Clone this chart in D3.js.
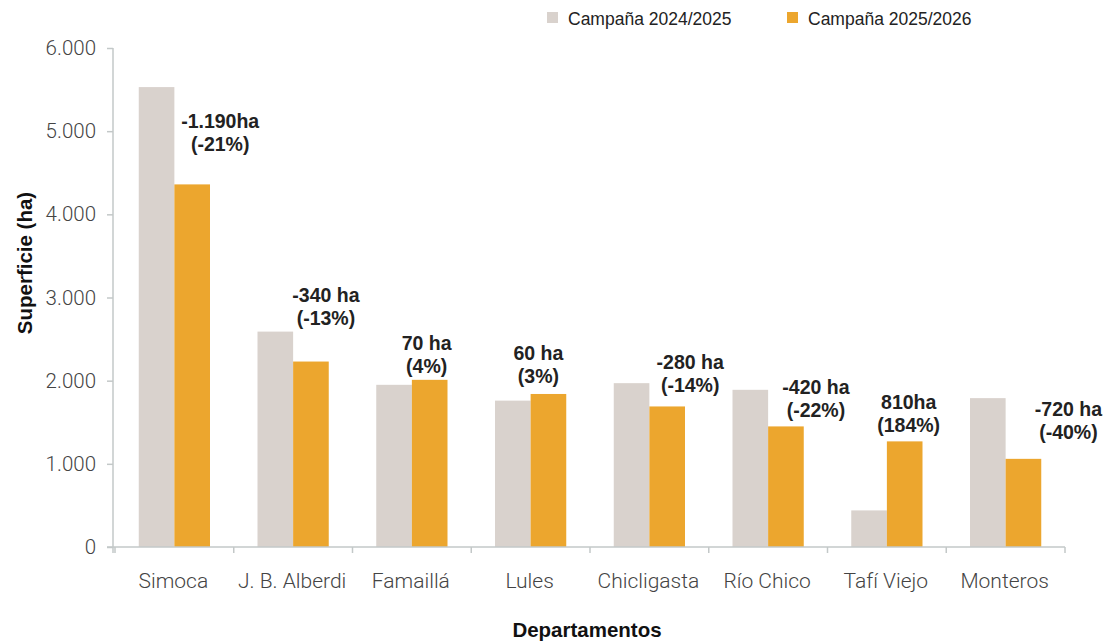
<!DOCTYPE html>
<html lang="es">
<head>
  <meta charset="UTF-8">
  <title>Superficie por departamento</title>
  <script src="https://d3js.org/d3.v7.min.js"></script>
  <style>
    body { margin: 0; background: #fff; }
    svg { display: block; }
    .tick-label { font-family: Roboto, "Liberation Sans", sans-serif; font-weight: 300; fill: #444; }
    .bold { font-family: "Liberation Sans", Arial, sans-serif; font-weight: bold; fill: #222; }
  </style>
</head>
<body>
<script>
// data
const departamentos = ["Simoca", "J. B. Alberdi", "Famaillá", "Lules", "Chicligasta", "Río Chico", "Tafí Viejo", "Monteros"];
const series = ["Campaña 2024/2025", "Campaña 2025/2026"];
const campana2024 = [5530, 2590, 1950, 1760, 1970, 1890, 440, 1790];
const campana2025 = [4360, 2230, 2010, 1840, 1690, 1450, 1270, 1060];
const difHa = ["-1.190ha", "-340 ha", "70 ha", "60 ha", "-280 ha", "-420 ha", "810ha", "-720 ha"];
const difPct = ["(-21%)", "(-13%)", "(4%)", "(3%)", "(-14%)", "(-22%)", "(184%)", "(-40%)"];
const yTicks = [0, 1000, 2000, 3000, 4000, 5000, 6000];

// label placement (hand-placed in the original)
const labelDx = [28, 15, -3, -10, 23, 30, 4, 45];
const labelDy = [33, 37, 7, 11, 14, 9, 9, 20];

const colors = ["#d9d2cd", "#eca62e"];
const axisColor = "#c3c8c8";

const width = 1109;
const height = 644;

const svg = d3.select("body").append("svg")
  .attr("width", width)
  .attr("height", height);

const y = d3.scaleLinear().domain([0, 6000]).range([547, 48]);

const x0 = d3.scaleBand()
  .domain(departamentos)
  .range([115, 1065])
  .paddingInner(0.4)
  .paddingOuter(0.2);

const x1 = d3.scaleBand()
  .domain(series)
  .range([0, x0.bandwidth()]);

const locale = d3.formatLocale({decimal: ",", thousands: ".", grouping: [3], currency: ["$", ""]});
const fmt = locale.format(",");

// y axis
const yAxis = svg.append("g")
  .attr("transform", "translate(113,0)")
  .call(d3.axisLeft(y).tickValues(yTicks).tickFormat(fmt).tickSize(6).tickPadding(11));
yAxis.select(".domain").remove();
yAxis.selectAll(".tick line").attr("stroke", axisColor).attr("stroke-width", 1.5);
yAxis.selectAll(".tick text")
  .attr("class", "tick-label")
  .style("font-size", "20.5px");
svg.append("line")
  .attr("x1", 113).attr("x2", 113)
  .attr("y1", y(6000)).attr("y2", 553)
  .attr("stroke", axisColor).attr("stroke-width", 1.5);

// bars
const groups = svg.append("g")
  .selectAll("g")
  .data(departamentos)
  .join("g")
  .attr("transform", d => `translate(${x0(d)},0)`);

groups.selectAll("rect")
  .data((d, i) => [campana2024[i], campana2025[i]].map((v, j) => ({s: series[j], v: v, c: colors[j]})))
  .join("rect")
  .attr("x", d => x1(d.s))
  .attr("width", x1.bandwidth())
  .attr("y", d => y(d.v))
  .attr("height", d => y(0) - y(d.v))
  .attr("fill", d => d.c);

// x axis
const step = x0.step();
const xStart = x0.range()[0];
svg.append("line")
  .attr("x1", 107).attr("x2", xStart + step * departamentos.length)
  .attr("y1", y(0)).attr("y2", y(0))
  .attr("stroke", axisColor).attr("stroke-width", 1.5);
svg.append("g")
  .selectAll("line")
  .data(d3.range(departamentos.length + 1))
  .join("line")
  .attr("x1", i => xStart + i * step)
  .attr("x2", i => xStart + i * step)
  .attr("y1", y(0))
  .attr("y2", y(0) + 6)
  .attr("stroke", axisColor).attr("stroke-width", 1.5);

svg.append("g")
  .selectAll("text")
  .data(departamentos)
  .join("text")
  .attr("class", "tick-label")
  .attr("x", d => x0(d) + x0.bandwidth() / 2 - 1)
  .attr("y", 588)
  .attr("text-anchor", "middle")
  .style("font-size", "21px")
  .text(d => d);

// difference labels
const orangeMid = x1(series[1]) + x1.bandwidth() / 2;
const lab = svg.append("g")
  .selectAll("text")
  .data(departamentos)
  .join("text")
  .attr("class", "bold")
  .attr("text-anchor", "middle")
  .style("font-size", "19.5px");
lab.append("tspan")
  .attr("x", (d, i) => x0(d) + orangeMid + labelDx[i])
  .attr("y", (d, i) => y(campana2025[i]) - labelDy[i] - 23)
  .text((d, i) => difHa[i]);
lab.append("tspan")
  .attr("x", (d, i) => x0(d) + orangeMid + labelDx[i])
  .attr("y", (d, i) => y(campana2025[i]) - labelDy[i])
  .text((d, i) => difPct[i]);

// axis titles
svg.append("text")
  .attr("class", "bold")
  .attr("transform", "translate(32,263) rotate(-90)")
  .attr("text-anchor", "middle")
  .style("font-size", "20.5px")
  .style("fill", "#111")
  .text("Superficie (ha)");

svg.append("text")
  .attr("class", "bold")
  .attr("x", 587)
  .attr("y", 637)
  .attr("text-anchor", "middle")
  .style("font-size", "20.5px")
  .style("fill", "#111")
  .text("Departamentos");

// legend
const legendX = [547, 787];
const legend = svg.append("g")
  .selectAll("g")
  .data(series)
  .join("g")
  .attr("transform", (d, i) => `translate(${legendX[i]},12)`);
legend.append("rect")
  .attr("width", 11).attr("height", 11)
  .attr("fill", (d, i) => colors[i]);
legend.append("text")
  .attr("x", 21)
  .attr("y", 13)
  .style("font-family", "'Liberation Sans', Arial, sans-serif")
  .style("font-size", "17.5px")
  .style("fill", "#222")
  .text(d => d);
</script>
</body>
</html>
